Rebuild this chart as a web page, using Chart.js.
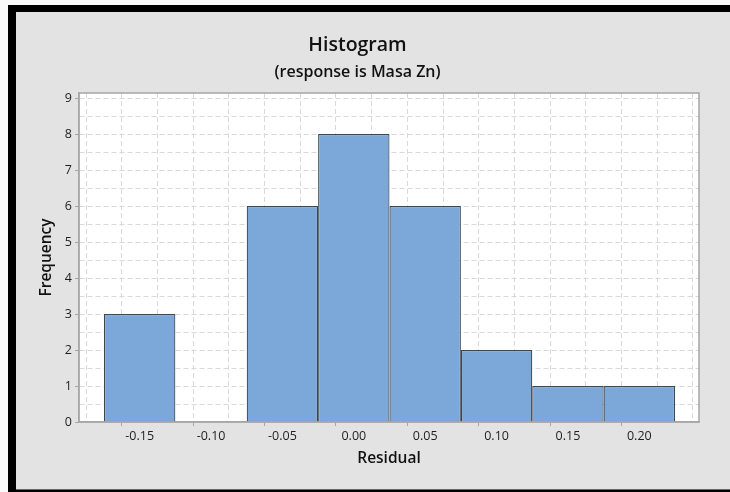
<!DOCTYPE html>
<html lang="en">
<head>
    <meta charset="UTF-8">
    <title>Histogram</title>
    <script src="https://cdn.jsdelivr.net/npm/chart.js"></script>
    <style>
        html, body { margin: 0; padding: 0; }
        body { width: 730px; height: 492px; position: relative; overflow: hidden; background: #fafafa; }
        #frame { position: absolute; left: 8px; top: 5px; width: 722px; height: 487px; background: #000; }
        #panel { position: absolute; left: 16px; top: 12px; width: 714px; height: 477px; background: #e3e3e3; border-bottom: 1px solid #666; }
        #chart { position: absolute; left: 0; top: 0; }
    </style>
</head>
<body>
    <div id="frame"></div>
    <div id="panel"></div>
    <canvas id="chart" width="730" height="492"></canvas>

    <script>
        // data histogram residual
        const midpoints = [-0.15, -0.10, -0.05, 0.00, 0.05, 0.10, 0.15, 0.20];
        const counts = [3, 0, 6, 8, 6, 2, 1, 1];
        const xTicks = [-0.175, -0.15, -0.125, -0.10, -0.075, -0.05, -0.025, 0, 0.025, 0.05, 0.075, 0.10, 0.125, 0.15, 0.175, 0.20, 0.225];
        const yTicks = [0, 0.5, 1, 1.5, 2, 2.5, 3, 3.5, 4, 4.5, 5, 5.5, 6, 6.5, 7, 7.5, 8, 8.5, 9];

        const isMajorX = v => Math.abs(Math.round(v * 40)) % 2 === 0;
        const isMajorY = v => Math.abs(v - Math.round(v)) < 1e-9;
        const tickVal = ctx => (ctx && ctx.tick) ? ctx.tick.value : NaN;

        const fontName = '"Open Sans", "Noto Sans", sans-serif';
        const gridCol = '#d9d9d9';
        const frameCol = '#a6a6a6';
        const none = 'rgba(0,0,0,0)';

        // kotak plot putih + garis tepi
        const plotBox = {
            id: 'plotBox',
            beforeDraw(chart) {
                const a = chart.chartArea;
                const c = chart.ctx;
                c.save();
                c.fillStyle = '#ffffff';
                c.fillRect(a.left, a.top, a.right - a.left, a.bottom - a.top);
                c.restore();
            },
            afterDraw(chart) {
                const a = chart.chartArea;
                const c = chart.ctx;
                c.save();
                c.strokeStyle = frameCol;
                c.lineWidth = 1.5;
                c.strokeRect(a.left, a.top, a.right - a.left, a.bottom - a.top);
                c.restore();
            }
        };

        new Chart(document.getElementById('chart'), {
            type: 'bar',
            data: {
                datasets: [{
                    label: 'Frequency',
                    data: midpoints.map((m, i) => ({ x: m, y: counts[i] })),
                    backgroundColor: '#7ba7d9',
                    borderColor: '#3e4650',
                    borderWidth: 1.2,
                    barPercentage: 1,
                    // ruler ikut jarak tick 0.025, jadi lebar bin = 2x
                    categoryPercentage: 2
                }]
            },
            plugins: [plotBox],
            options: {
                responsive: false,
                animation: false,
                layout: { padding: { left: 16, right: 31, top: 12, bottom: 0 } },
                plugins: {
                    legend: { display: false },
                    tooltip: { enabled: false },
                    title: {
                        display: true,
                        text: 'Histogram',
                        color: '#111',
                        font: { family: fontName, size: 19.5, weight: '600' },
                        padding: { top: 21.3, bottom: 2 }
                    },
                    subtitle: {
                        display: true,
                        text: '(response is Masa Zn)',
                        color: '#111',
                        font: { family: fontName, size: 16, weight: '600' },
                        padding: { top: 3.7, bottom: 11.4 }
                    }
                },
                scales: {
                    x: {
                        type: 'linear',
                        offset: false,
                        min: -0.1925,
                        max: 0.2418,
                        afterFit: s => { s.height = 70; },
                        afterBuildTicks: s => { s.ticks = xTicks.map(v => ({ value: v })); },
                        ticks: {
                            autoSkip: false,
                            maxRotation: 0,
                            padding: 3,
                            color: '#1e1e1e',
                            font: { family: fontName, size: 12.5 },
                            callback: v => isMajorX(v) ? v.toFixed(2) : ''
                        },
                        grid: {
                            color: gridCol,
                            lineWidth: 1,
                            drawTicks: true,
                            tickLength: 4,
                            tickBorderDash: [],
                            tickColor: ctx => isMajorX(tickVal(ctx)) ? frameCol : none
                        },
                        border: { color: frameCol, width: 1.5, dash: [5, 3] },
                        title: {
                            display: true,
                            text: 'Residual',
                            color: '#111',
                            font: { family: fontName, size: 15.5, weight: '600' },
                            padding: { top: 0, bottom: 23.7 }
                        }
                    },
                    y: {
                        min: 0,
                        max: 9.14,
                        afterFit: s => { s.width = 63; },
                        afterBuildTicks: s => { s.ticks = yTicks.map(v => ({ value: v })); },
                        ticks: {
                            autoSkip: false,
                            padding: 3,
                            color: '#1e1e1e',
                            font: { family: fontName, size: 12.5 },
                            callback: v => isMajorY(v) ? String(Math.round(v)) : ''
                        },
                        grid: {
                            color: ctx => tickVal(ctx) === 0 ? none : gridCol,
                            lineWidth: 1,
                            drawTicks: true,
                            tickLength: 4,
                            tickBorderDash: [],
                            tickColor: ctx => isMajorY(tickVal(ctx)) ? frameCol : none
                        },
                        border: { color: frameCol, width: 1.5, dash: [5, 3] },
                        title: {
                            display: true,
                            text: 'Frequency',
                            color: '#111',
                            font: { family: fontName, size: 15.5, weight: '600' },
                            padding: { top: 21.7, bottom: 0 }
                        }
                    }
                }
            }
        });
    </script>
</body>
</html>
